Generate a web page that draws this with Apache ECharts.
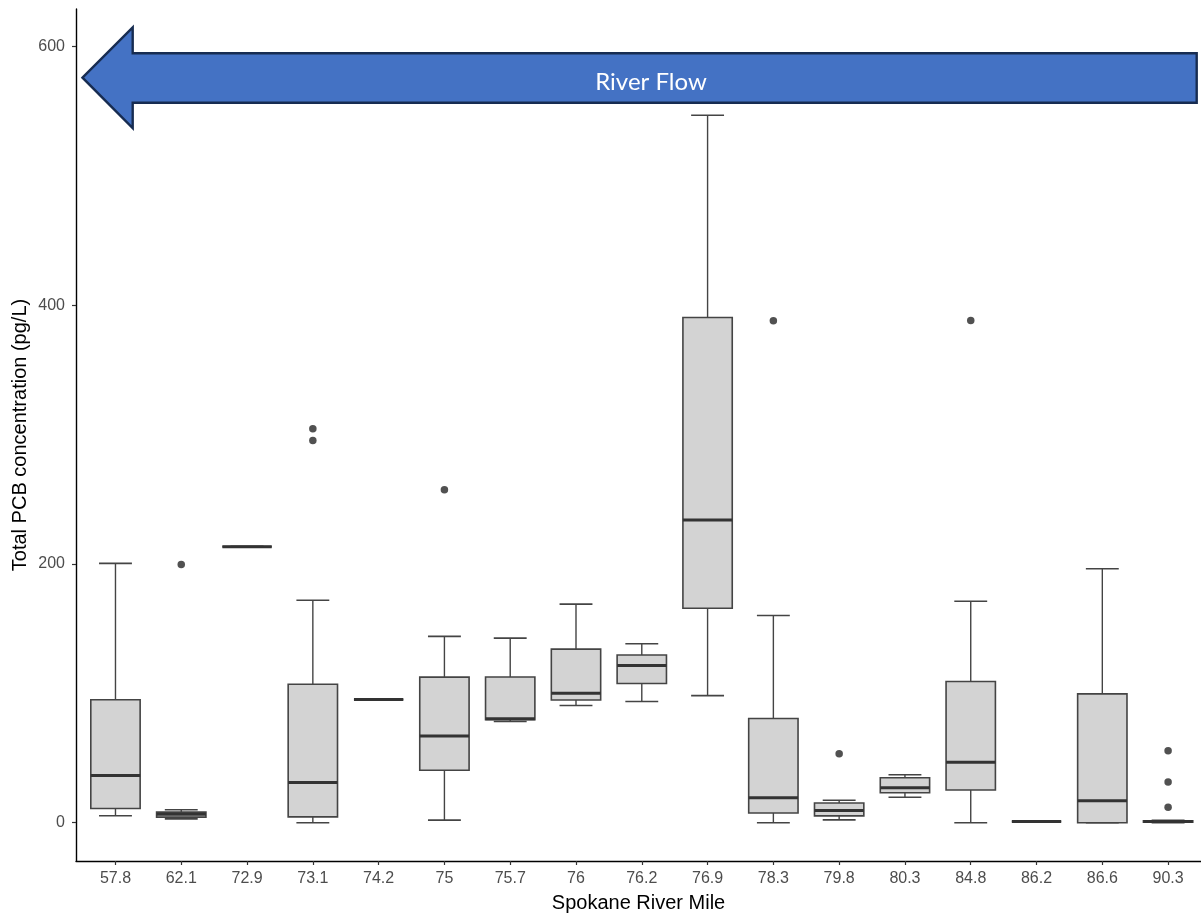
<!DOCTYPE html>
<html>
<head>
<meta charset="utf-8">
<script src="https://cdn.jsdelivr.net/npm/echarts@6/dist/echarts.min.js"></script>
<style>
  html, body { margin: 0; padding: 0; background: #fff; }
  #chart { width: 1201px; height: 915px; }
</style>
</head>
<body>
<div id="chart"></div>
<script>
// ---- Data ----
const categories = ['57.8','62.1','72.9','73.1','74.2','75','75.7','76','76.2','76.9','78.3','79.8','80.3','84.8','86.2','86.6','90.3'];
const whiskerLow  = [5.4,   3,    213.4, 0,     95.2, 2,     78.2,  90.6,  93.7,  98.2,  0,     2.2,  19.7, 0,     0.9, 0,     0];
const q1          = [11,    4.3,  213.4, 4.5,   95.2, 40.5,  79.6,  94.8,  107.6, 165.8, 7.5,   5.3,  23.1, 25.3,  0.9, 0,     0.3];
const median      = [36.5,  6.5,  213.4, 31,    95.2, 67,    80.3,  100,   121.5, 234,   19.3,  9.5,  27,   46.7,  0.9, 16.9,  1];
const q3          = [95,    8.2,  213.4, 107,   95.2, 112.5, 112.6, 134.2, 129.6, 390.5, 80.6,  15.2, 34.8, 109.1, 0.9, 99.6,  1.5];
const whiskerHigh = [200.5, 10,   213.4, 172,   95.2, 144,   142.7, 169,   138.3, 546.9, 160.2, 17.4, 37.1, 171.2, 0.9, 196.3, 1.8];
const outlierCat  = ['62.1','73.1','73.1','75','78.3','79.8','84.8','90.3','90.3','90.3'];
const outlierVal  = [199.5, 304.6, 295.5, 257.3, 388, 53.4, 388.3, 55.7, 31.5, 11.9];
const yTicks = [0, 200, 400, 600];

// ---- Build series data ----
const boxData = categories.map((c, i) => [i, whiskerLow[i], q1[i], median[i], q3[i], whiskerHigh[i]]);
const outData = outlierCat.map((c, k) => [categories.indexOf(c), outlierVal[k]]);

const chart = echarts.init(document.getElementById('chart'), null, { renderer: 'canvas' });

const boxStroke = '#444444';

function renderBox(params, api) {
  const x = api.value(0);
  const pLo = api.coord([x, api.value(1)]);
  const pQ1 = api.coord([x, api.value(2)]);
  const pMed = api.coord([x, api.value(3)]);
  const pQ3 = api.coord([x, api.value(4)]);
  const pHi = api.coord([x, api.value(5)]);
  const cx = pMed[0];
  const bw = api.size([0.75, 0])[0];
  const cw = api.size([0.5, 0])[0];
  const lineStyle = { stroke: boxStroke, lineWidth: 1.4, fill: null };
  return {
    type: 'group',
    children: [
      { type: 'line', shape: { x1: cx, y1: pQ3[1], x2: cx, y2: pHi[1] }, style: lineStyle },
      { type: 'line', shape: { x1: cx, y1: pQ1[1], x2: cx, y2: pLo[1] }, style: lineStyle },
      { type: 'line', shape: { x1: cx - cw / 2, y1: pHi[1], x2: cx + cw / 2, y2: pHi[1] }, style: { stroke: boxStroke, lineWidth: 1.6 } },
      { type: 'line', shape: { x1: cx - cw / 2, y1: pLo[1], x2: cx + cw / 2, y2: pLo[1] }, style: { stroke: boxStroke, lineWidth: 1.6 } },
      { type: 'rect', shape: { x: cx - bw / 2, y: pQ3[1], width: bw, height: pQ1[1] - pQ3[1] },
        style: { fill: '#d3d3d3', stroke: boxStroke, lineWidth: 1.6 } },
      { type: 'line', shape: { x1: cx - bw / 2, y1: pMed[1], x2: cx + bw / 2, y2: pMed[1] },
        style: { stroke: '#333333', lineWidth: 3 } }
    ]
  };
}

const option = {
  backgroundColor: '#ffffff',
  animation: false,
  grid: { left: 76, right: 0, top: 9, bottom: 54, outerBoundsMode: 'none' },
  xAxis: {
    type: 'value',
    min: -0.6,
    max: 16.5,
    name: 'Spokane River Mile',
    nameLocation: 'middle',
    nameGap: 32,
    nameMoveOverlap: false,
    nameTextStyle: { color: '#000', fontSize: 20, fontFamily: 'Liberation Sans, Arial, sans-serif' },
    splitLine: { show: false },
    axisLine: { show: true, onZero: false, lineStyle: { color: '#000', width: 1.4 } },
    axisTick: { show: true, length: 4, customValues: categories.map((c, i) => i), lineStyle: { color: '#333', width: 1.2 } },
    axisLabel: {
      customValues: categories.map((c, i) => i),
      formatter: v => categories[Math.round(v)],
      color: '#4d4d4d', fontSize: 16, margin: 10,
      fontFamily: 'Liberation Sans, Arial, sans-serif'
    }
  },
  yAxis: {
    type: 'value',
    min: -29.6,
    max: 629,
    name: 'Total PCB concentration (pg/L)',
    nameLocation: 'middle',
    nameRotate: 90,
    nameGap: 46,
    nameMoveOverlap: false,
    nameTextStyle: { color: '#000', fontSize: 20, fontFamily: 'Liberation Sans, Arial, sans-serif' },
    splitLine: { show: false },
    axisLine: { show: true, onZero: false, lineStyle: { color: '#000', width: 1.4 } },
    axisTick: { show: true, length: 4, customValues: yTicks, lineStyle: { color: '#333', width: 1.2 } },
    axisLabel: {
      customValues: yTicks,
      color: '#4d4d4d', fontSize: 16, margin: 11,
      fontFamily: 'Liberation Sans, Arial, sans-serif'
    }
  },
  series: [
    {
      type: 'custom',
      name: 'boxes',
      renderItem: renderBox,
      encode: { x: 0, y: [1, 2, 3, 4, 5] },
      data: boxData,
      clip: false,
      z: 2
    },
    {
      type: 'scatter',
      name: 'outliers',
      data: outData,
      symbol: 'circle',
      symbolSize: 7.5,
      itemStyle: { color: '#262626' },
      z: 3
    }
  ],
  graphic: [
    {
      type: 'polygon',
      z: 10,
      shape: {
        points: [[82.5, 77.7], [132.7, 27.5], [132.7, 53.3], [1196.7, 53.3], [1196.7, 102.7], [132.7, 102.7], [132.7, 128]]
      },
      style: { fill: '#4472c4', stroke: '#172c51', lineWidth: 2.4, lineJoin: 'miter' }
    },
    {
      type: 'text',
      z: 11,
      x: 651,
      y: 82,
      style: {
        text: 'River Flow',
        fill: '#ffffff',
        font: '24px Lato, "Open Sans", sans-serif',
        align: 'center',
        verticalAlign: 'middle'
      }
    }
  ]
};

chart.setOption(option);
</script>
</body>
</html>
